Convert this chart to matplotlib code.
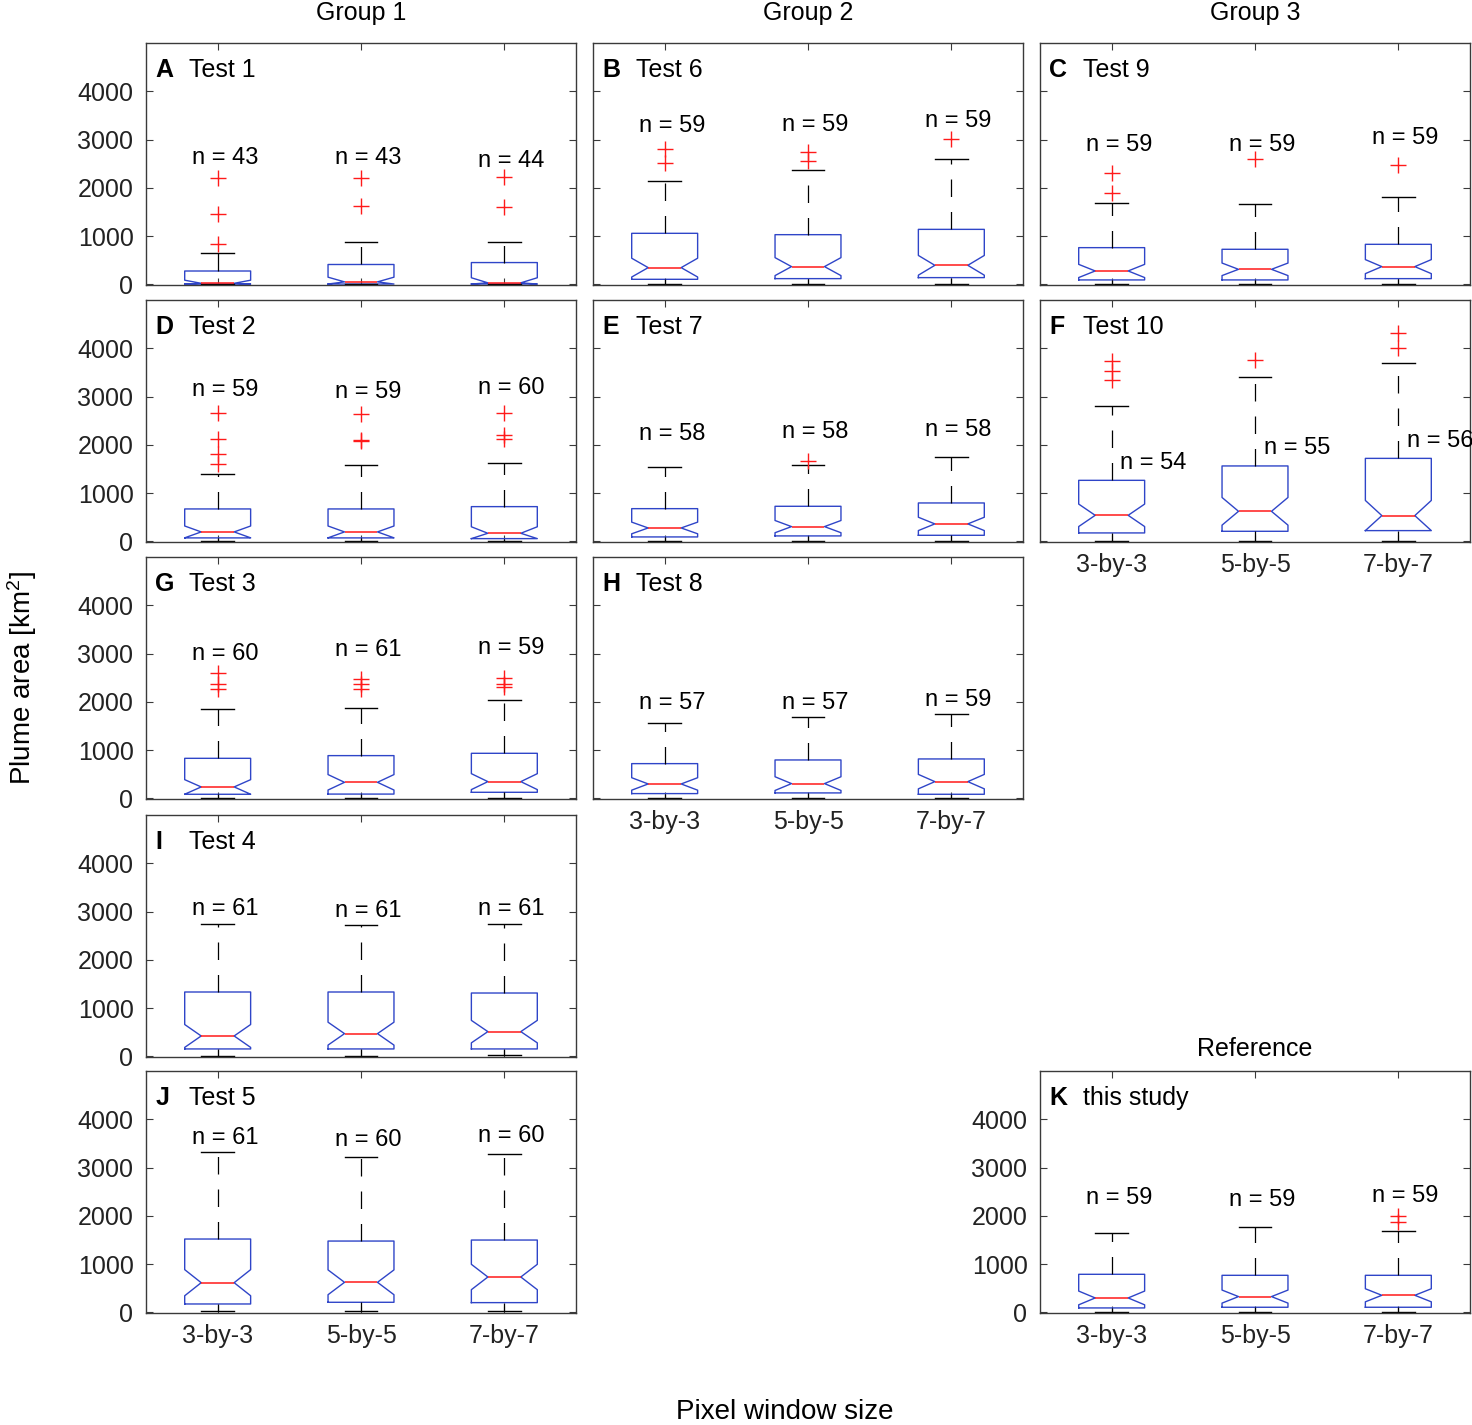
import numpy as np
import matplotlib
matplotlib.use("Agg")
import matplotlib.pyplot as plt

plt.rcParams['font.family'] = ['Liberation Sans', 'DejaVu Sans']
plt.rcParams['mathtext.default'] = 'regular'

# panels, in order A..K
letters = ["A", "B", "C", "D", "E", "F", "G", "H", "I", "J", "K"]
tests = ["Test 1", "Test 6", "Test 9", "Test 2", "Test 7", "Test 10",
         "Test 3", "Test 8", "Test 4", "Test 5", "this study"]
window_sizes = ["3-by-3", "5-by-5", "7-by-7"]
group_names = ["Group 1", "Group 2", "Group 3"]

# box statistics (km^2), one triple per panel
medians = [[20, 50, 30], [345, 366, 393], [276, 310, 366],
           [194, 194, 166], [276, 304, 360], [538, 621, 532],
           [235, 331, 345], [297, 304, 345], [421, 469, 511],
           [613, 621, 731], [297, 325, 352]]
lower_q = [[5, 5, 5], [103, 117, 138], [90, 90, 117],
           [70, 70, 55], [90, 111, 124], [173, 207, 221],
           [83, 87, 124], [97, 111, 83], [152, 152, 152],
           [172, 207, 200], [90, 104, 104]]
upper_q = [[275, 410, 450], [1056, 1028, 1138], [759, 725, 828],
           [670, 670, 718], [676, 725, 794], [1263, 1561, 1718],
           [828, 884, 932], [718, 794, 815], [1332, 1332, 1311],
           [1518, 1476, 1497], [787, 766, 766]]
upper_whisker = [[640, 880, 880], [2150, 2360, 2588], [1691, 1670, 1815],
                 [1395, 1574, 1622], [1532, 1588, 1739], [2809, 3403, 3693],
                 [1850, 1877, 2037], [1567, 1677, 1746], [2746, 2712, 2733],
                 [3313, 3209, 3271], [1643, 1774, 1691]]
lower_whisker = [[5, 5, 5], [10, 10, 10], [10, 10, 10],
                 [10, 10, 10], [10, 10, 10], [15, 15, 15],
                 [10, 10, 10], [10, 10, 10], [15, 15, 30],
                 [20, 30, 35], [10, 10, 10]]
outliers = [[[2210, 1450, 830], [2210, 1620], [2230, 1610]],
            [[2795, 2519], [2740, 2553], [3002]],
            [[2312, 1898], [2602], [2463]],
            [[2658, 2120, 1816, 1609], [2637, 2100, 2080], [2658, 2208, 2120]],
            [[], [1656], []],
            [[3727, 3520, 3333], [3761], [4314, 4004]],
            [[2590, 2370, 2260], [2470, 2370, 2260], [2500, 2360, 2310]],
            [[], [], []],
            [[], [], []],
            [[], [], []],
            [[], [], [1988, 1863]]]
n_obs = [[43, 43, 44], [59, 59, 59], [59, 59, 59],
         [59, 59, 60], [58, 58, 58], [54, 55, 56],
         [60, 61, 59], [57, 57, 59], [61, 61, 61],
         [61, 60, 60], [59, 59, 59]]
n_label_y = [[2620, 2620, 2560], [3270, 3310, 3375], [2880, 2880, 3040],
             [3140, 3100, 3180], [2230, 2270, 2310], [1620, 1930, 2070],
             [3000, 3070, 3105], [1980, 1980, 2040], [3060, 3020, 3045],
             [3615, 3565, 3655], [2370, 2320, 2400]]

# layout (pixels of the 1472x1425 figure)
W, H = 1472, 1425
cells = [(0, 0), (0, 1), (0, 2), (1, 0), (1, 1), (1, 2),
         (2, 0), (2, 1), (3, 0), (4, 0), (4, 2)]
col_left = [146, 593, 1040]
row_top = [43, 300, 557, 815, 1071]
ax_w, ax_h = 430, 242
bottom_panels = {"F", "H", "J", "K"}
ylabel_panels = {"A", "D", "G", "I", "J", "K"}

box_blue = "#2f45c8"
frame = "#3a3a3a"

fig = plt.figure(figsize=(W / 100, H / 100), dpi=100)

for k, letter in enumerate(letters):
    r, c = cells[k]
    ax = fig.add_axes([col_left[c] / W, 1 - (row_top[r] + ax_h) / H,
                       ax_w / W, ax_h / H])
    stats = []
    for j in range(3):
        half = 1.57 * (upper_q[k][j] - lower_q[k][j]) / np.sqrt(n_obs[k][j])
        stats.append(dict(med=medians[k][j], q1=lower_q[k][j], q3=upper_q[k][j],
                          whislo=lower_whisker[k][j], whishi=upper_whisker[k][j],
                          fliers=outliers[k][j],
                          cilo=max(medians[k][j] - half, lower_q[k][j]),
                          cihi=min(medians[k][j] + half, upper_q[k][j])))
    ax.bxp(stats, positions=[1, 2, 3], widths=0.46, shownotches=True,
           manage_ticks=False,
           boxprops=dict(color=box_blue, linewidth=1.0),
           medianprops=dict(color="#ff1a1a", linewidth=1.1),
           whiskerprops=dict(color="black", linewidth=0.9, linestyle=(0, (14, 12))),
           capprops=dict(color="black", linewidth=1.0),
           flierprops=dict(marker="+", markeredgecolor="#ff1a1a", markersize=11,
                           markeredgewidth=1.0, linestyle="none"))

    for j in range(3):
        if letter == "F":
            ax.text(j + 1 + 0.06, n_label_y[k][j], f"n = {n_obs[k][j]}",
                    ha="left", va="center", fontsize=17)
        else:
            ax.text(j + 1 + 0.05, n_label_y[k][j], f"n = {n_obs[k][j]}",
                    ha="center", va="center", fontsize=17)

    ax.text(0.022, 0.89, letter, transform=ax.transAxes, fontsize=18,
            fontweight="bold", va="center")
    ax.text(0.1, 0.89, tests[k], transform=ax.transAxes, fontsize=18, va="center")

    ax.set_xlim(0.5, 3.5)
    ax.set_ylim(-15, 5000)
    ax.set_xticks([1, 2, 3])
    ax.set_yticks([0, 1000, 2000, 3000, 4000])
    ax.tick_params(direction="in", length=5, width=0.8, color=frame,
                   top=True, right=True, labelsize=18, labelcolor="#222222")
    ax.tick_params(axis="y", pad=9)
    ax.tick_params(axis="x", pad=8)
    if letter in bottom_panels:
        ax.set_xticklabels(window_sizes)
    else:
        ax.set_xticklabels([])
    if letter not in ylabel_panels:
        ax.set_yticklabels([])
    for s in ax.spines.values():
        s.set_color(frame)
        s.set_linewidth(1.0)

    if letter == "K":
        ax.set_title("Reference", fontsize=18, pad=11)

for c, name in enumerate(group_names):
    fig.text((col_left[c] + ax_w / 2) / W, 1 - 13 / H, name,
             ha="center", va="center", fontsize=18)

fig.text(785 / W, 1 - 1412 / H, "Pixel window size", ha="center", va="center",
         fontsize=20)
fig.text(22 / W, 1 - 678 / H, "Plume area [km$^2$]", ha="center", va="center",
         rotation=90, fontsize=20)

fig.savefig("out.png", dpi=100)
